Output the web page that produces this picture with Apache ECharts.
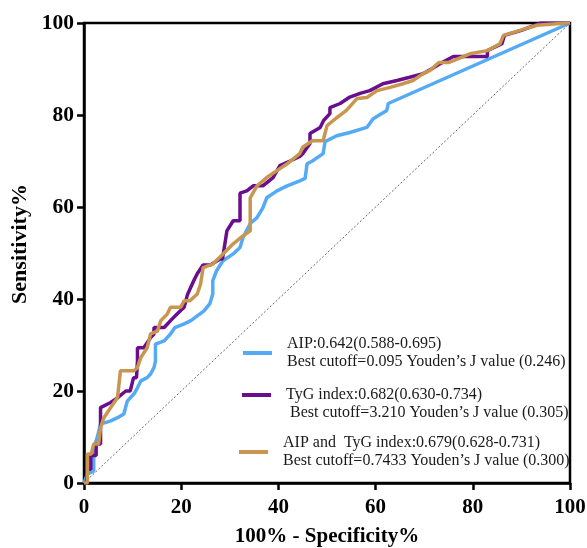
<!DOCTYPE html>
<html>
<head>
<meta charset="utf-8">
<script src="https://cdn.jsdelivr.net/npm/echarts@6/dist/echarts.min.js"></script>
<style>html,body{margin:0;padding:0;background:#fff}#c{width:587px;height:548px}</style>
</head>
<body>
<div id="c"></div>
<script>
const xTicks = [0, 20, 40, 60, 80, 100];
const yTicks = [0, 20, 40, 60, 80, 100];
const nameAIP = 'AIP:0.642(0.588-0.695)\nBest cutoff=0.095 Youden\u2019s J value (0.246)';
const nameTyG = 'TyG index:0.682(0.630-0.734)\n Best cutoff=3.210 Youden\u2019s J value (0.305)';
const nameBoth = 'AIP and  TyG index:0.679(0.628-0.731)\nBest cutoff=0.7433 Youden\u2019s J value (0.300)';
const reference = [[0, 0], [100, 100]];
const aipROC = [[0,0],[0.7,2],[2,2.6],[2,7.6],[2.7,9.8],[3.4,12.8],[5.5,13.5],[6.9,14.2],[8.2,15],[8.9,17.8],[10.3,19.4],[11,20.7],[11.7,22.2],[13,22.9],[13.7,23.7],[14.4,25.1],[14.7,26.5],[14.7,30.2],[16.5,30.9],[17.8,32.4],[18.7,33.8],[20.6,34.6],[22,35.3],[24.7,37.4],[25.9,39],[26.5,41.1],[26.5,44],[27.3,46.2],[28.6,48.3],[30.7,49.8],[32.1,51.2],[32.7,53.3],[34.2,56.4],[35.6,57.7],[36.8,59.8],[37.6,62],[39.7,63.5],[41.8,64.6],[44.4,65.7],[45.5,66.2],[45.9,69.4],[47,70],[49.2,71.6],[49.6,74.2],[52,75.5],[54.7,76.2],[58.2,77.3],[59.5,79.2],[62.3,81],[62.6,82.5],[100,100]];
const tygROC = [[0,0],[0.5,0],[0.7,3],[1.4,3],[1.4,6],[2.5,6],[2.5,8.5],[3.4,8.5],[3.4,16.4],[5.5,17.5],[7,18.6],[8.6,20],[9.5,20],[10.2,22.9],[10.8,22.9],[11,26.5],[11,29.4],[12.3,29.4],[13.7,31.6],[14.4,32.4],[14.4,33.8],[16.5,33.8],[17.8,35.3],[19.2,36.8],[20.6,38.2],[21.3,41],[22.6,44],[23.3,45.5],[24.5,47.4],[26,47.4],[28,48.7],[28.5,48.7],[29.4,54.8],[30.7,57],[32.1,57],[32.1,63],[33.5,63.5],[34.8,64.6],[36.8,64.6],[38.9,66.4],[40.3,69],[42.4,70],[44.4,71],[45,71.6],[46.5,73.8],[46.5,76],[48.6,77.3],[49.3,78.8],[50.6,80.3],[50.6,81.6],[52.7,82.5],[54.7,83.9],[56.8,84.7],[58.8,85.3],[61.5,86.8],[64.4,87.5],[67,88.2],[69.8,89],[71.5,90],[73,91],[76,92.7],[83,92.7],[83,94],[86,95.5],[86.5,97.3],[90,98.4],[94,100],[100,100]];
const bothROC = [[0,0],[0.7,0],[0.7,6.3],[1.5,6.3],[2,8.5],[3,8.5],[3.4,12],[4.1,14.2],[5.5,16.4],[6.9,18.6],[7.5,24.4],[10.3,24.4],[11,25.1],[11.7,27.3],[13,29.4],[13.7,32.4],[15.1,33],[15.8,35.3],[17.1,36.7],[17.8,38.2],[19.9,38.2],[20.6,39.6],[21.8,39.6],[23.3,41.1],[24,43.3],[24.5,46.8],[26.5,47.6],[28.6,49.8],[30.7,52],[32.7,53.7],[34.2,54.8],[34.2,62],[35.6,64.6],[37.6,66.4],[39.7,67.9],[41.8,69.4],[44.4,71.6],[45,73],[47,74.4],[49.2,74.4],[50,77.7],[52,79.4],[54,81],[56.2,83.6],[58.2,83.8],[60.3,85.3],[63,86],[65.6,86.8],[67.7,87.5],[69.8,89],[71.2,89.7],[73,91.4],[75,91.4],[76,91.8],[79.4,93.3],[83,94],[85.6,95.5],[86.3,97.3],[89.7,98.4],[93.2,99.5],[99.4,100],[100,100]];

const colors = { aip: '#55aaf5', tyg: '#6a0e8e', both: '#c8964f' };
const serif = '"Liberation Serif", "Times New Roman", serif';

const chart = echarts.init(document.getElementById('c'), null, { renderer: 'canvas' });
const legendText = { fontFamily: serif, fontSize: 16, lineHeight: 18, color: '#1a1a1a', padding: [0, 0, 0, 10] };
function mkLegend(name, left, top, fmt) {
  const l = {
    data: [name], left: left, top: top, orient: 'vertical', padding: 0,
    icon: 'rect', itemWidth: 29, itemHeight: 4, selectedMode: false,
    textStyle: legendText
  };
  if (fmt) l.formatter = fmt;
  return l;
}
chart.setOption({
  animation: false,
  backgroundColor: '#fff',
  grid: { left: 84, right: 17, top: 23, bottom: 65, outerBoundsMode: 'none', containLabel: false,
    show: true, borderColor: '#000', borderWidth: 2.5, backgroundColor: 'transparent' },
  legend: [
    mkLegend(nameAIP, 243, 335),
    mkLegend(nameTyG, 242, 368, n => '\n' + n),
    mkLegend(nameBoth, 239, 434)
  ],
  xAxis: {
    type: 'value', min: xTicks[0], max: xTicks[xTicks.length - 1], interval: 20,
    name: '100% - Specificity%', nameLocation: 'middle', nameGap: 43,
    nameTextStyle: { fontFamily: serif, fontSize: 21, fontWeight: 'bold', color: '#000' },
    axisLine: { lineStyle: { color: '#000', width: 2.5 } },
    axisTick: { show: true, length: 7, lineStyle: { color: '#000', width: 2.5 } },
    axisLabel: { fontFamily: serif, fontSize: 21, fontWeight: 'bold', color: '#000', margin: 14,
      formatter: v => xTicks.includes(v) ? String(v) : '' },
    splitLine: { show: false }
  },
  yAxis: {
    type: 'value', min: yTicks[0], max: yTicks[yTicks.length - 1], interval: 20,
    name: 'Sensitivity%', nameLocation: 'middle', nameGap: 46, nameRotate: 90,
    nameTextStyle: { fontFamily: serif, fontSize: 22, fontWeight: 'bold', color: '#000', padding: [0, 0, 0, 18] },
    axisLine: { lineStyle: { color: '#000', width: 2.5 } },
    axisTick: { show: true, length: 7, lineStyle: { color: '#000', width: 2.5 } },
    axisLabel: { fontFamily: serif, fontSize: 21.5, fontWeight: 'bold', color: '#000', margin: 10,
      formatter: v => yTicks.includes(v) ? String(v) : '' },
    splitLine: { show: false }
  },
  series: [
    { name: 'ref', type: 'line', data: reference, showSymbol: false, silent: true,
      lineStyle: { color: '#666', width: 1, type: [2, 2] } },
    { name: nameAIP, type: 'line', data: aipROC, showSymbol: false, color: colors.aip,
      lineStyle: { color: colors.aip, width: 3.5 } },
    { name: nameTyG, type: 'line', data: tygROC, showSymbol: false, color: colors.tyg,
      lineStyle: { color: colors.tyg, width: 3.5 } },
    { name: nameBoth, type: 'line', data: bothROC, showSymbol: false, color: colors.both,
      lineStyle: { color: colors.both, width: 3.5 } }
  ]
});
</script>
</body>
</html>
